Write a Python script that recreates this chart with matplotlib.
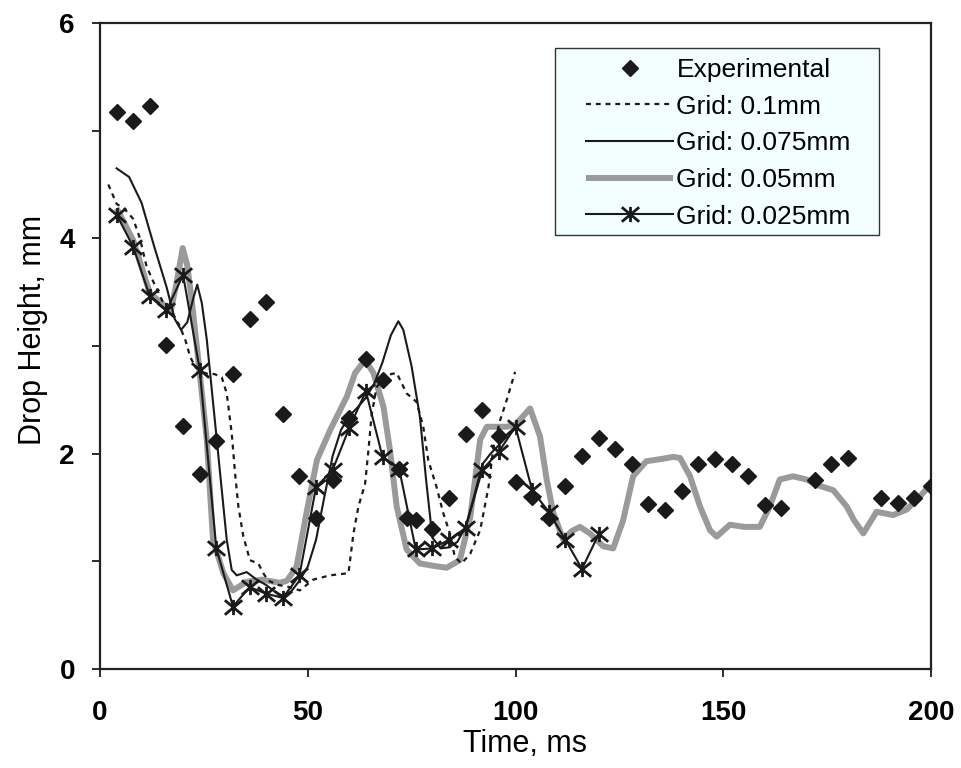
import matplotlib
matplotlib.use("Agg")
import matplotlib.pyplot as plt
from matplotlib.path import Path
from matplotlib.patches import Rectangle
from matplotlib.ticker import FixedLocator

plt.rcParams['font.family'] = ['Liberation Sans', 'DejaVu Sans']

# ---- data ----
exp_t = [4, 8, 12, 16, 20, 24, 28, 32, 36, 40, 44, 48, 52, 56, 60, 64, 68, 72, 74, 76,
         80, 84, 88, 92, 96, 100, 104, 108, 112, 116, 120, 124, 128, 132, 136, 140, 144,
         148, 152, 156, 160, 164, 172, 176, 180, 188, 192, 196, 200]
exp_h = [5.17, 5.09, 5.23, 3.01, 2.26, 1.81, 2.12, 2.74, 3.25, 3.41, 2.37, 1.79, 1.40, 1.76,
         2.33, 2.88, 2.68, 1.86, 1.40, 1.38, 1.30, 1.59, 2.18, 2.41, 2.16, 1.74, 1.60, 1.40,
         1.70, 1.98, 2.15, 2.04, 1.90, 1.53, 1.48, 1.65, 1.90, 1.95, 1.90, 1.79, 1.52, 1.50,
         1.76, 1.90, 1.96, 1.59, 1.54, 1.59, 1.70]

g10_t = [2, 4, 6, 8, 9.6, 11.2, 12.8, 15, 17, 19, 20.5, 21.7, 23, 24.5, 26, 27.5, 29.3,
         30.5, 31.7, 32.5, 33.3, 34.5, 36.1, 38.1, 39.3, 40.5, 43, 45.7, 48.1, 51.3, 55.4,
         59.8, 61, 62.2, 63.8, 64.6, 65.4, 66.6, 69, 71.4, 73.8, 76.2, 77.8, 79, 81, 82.6,
         84.2, 85.4, 87, 89.1, 91.5, 93.5, 94.7, 96.3, 97.9, 99.9]
g10_h = [4.50, 4.32, 4.27, 4.18, 4.00, 3.74, 3.60, 3.42, 3.32, 3.20, 3.06, 2.90, 2.80, 2.76,
         2.74, 2.74, 2.71, 2.56, 2.19, 1.82, 1.51, 1.23, 1.01, 0.98, 0.89, 0.82, 0.78, 0.76,
         0.73, 0.83, 0.87, 0.89, 1.26, 1.51, 1.72, 2.03, 2.37, 2.62, 2.73, 2.75, 2.56, 2.48,
         2.25, 1.94, 1.69, 1.45, 1.26, 1.04, 0.98, 1.07, 1.29, 1.69, 2.06, 2.31, 2.50, 2.76]

g075_t = [4, 7, 10, 13, 16, 18, 19.5, 21, 22.5, 23.4, 24.5, 25.7, 27.3, 28.9, 30.5, 31.7,
          32.9, 35.3, 37.7, 40, 42, 44, 46, 48, 50, 52, 54, 56, 58, 60, 62, 64, 66, 68, 70,
          71.8, 73, 75, 77, 78.5, 80, 82, 84, 86, 88, 90, 92, 94, 96, 98, 100]
g075_h = [4.65, 4.57, 4.33, 3.93, 3.55, 3.25, 3.15, 3.22, 3.45, 3.57, 3.40, 3.06, 2.44, 1.82,
          1.20, 0.92, 0.87, 0.90, 0.83, 0.78, 0.72, 0.68, 0.72, 0.82, 0.95, 1.20, 1.60, 1.98,
          2.22, 2.35, 2.43, 2.52, 2.65, 2.85, 3.10, 3.23, 3.15, 2.81, 2.34, 1.75, 1.22, 1.12,
          1.13, 1.18, 1.32, 1.60, 1.90, 2.00, 2.08, 2.18, 2.25]

g05_t = [4, 8, 12, 16, 17, 18.5, 19.9, 21, 22, 24, 25.7, 27.2, 29.7, 32, 35.3, 39, 43.3,
         45, 47.3, 49.7, 52.2, 55.4, 59.4, 61.4, 63.8, 65.8, 68.2, 69.8, 71.4, 73.8, 77, 80,
         83.4, 86.6, 89.1, 91.5, 93.1, 97.9, 100, 103.5, 105.9, 107.5, 109.1, 111.5, 113.5,
         115.5, 117.9, 121.1, 123.5, 125.9, 128.3, 131.5, 135, 138, 139.6, 142, 144.4, 146.8,
         148.4, 151.6, 155, 158.8, 161.2, 163.6, 166.8, 170, 172.5, 176.5, 179.7, 181.5,
         183.7, 186.9, 190.9, 194.1, 197.3, 200]
g05_h = [4.28, 3.98, 3.49, 3.36, 3.32, 3.60, 3.91, 3.75, 3.45, 2.75, 2.13, 1.20, 0.89, 0.73,
         0.81, 0.83, 0.80, 0.82, 0.95, 1.45, 1.94, 2.22, 2.53, 2.75, 2.87, 2.75, 2.44, 2.03,
         1.51, 1.11, 0.98, 0.96, 0.94, 1.01, 1.41, 2.13, 2.25, 2.25, 2.27, 2.42, 2.16, 1.76,
         1.45, 1.20, 1.28, 1.32, 1.26, 1.14, 1.12, 1.38, 1.79, 1.93, 1.95, 1.97, 1.96, 1.79,
         1.51, 1.29, 1.23, 1.34, 1.32, 1.32, 1.51, 1.76, 1.79, 1.76, 1.71, 1.66, 1.51, 1.38,
         1.26, 1.46, 1.43, 1.48, 1.60, 1.72]

g025_t = [4, 8, 12, 16, 20, 24, 28, 32, 36, 40, 44, 48, 52, 56, 60, 64, 68, 72, 76, 80, 84,
          88, 92, 96, 100, 104, 108, 112, 116, 120]
g025_h = [4.22, 3.92, 3.46, 3.33, 3.66, 2.78, 1.12, 0.58, 0.76, 0.70, 0.66, 0.87, 1.69, 1.85,
          2.24, 2.58, 1.97, 1.86, 1.11, 1.12, 1.20, 1.31, 1.85, 2.02, 2.25, 1.66, 1.46, 1.20,
          0.93, 1.25]

labels = ["Experimental", "Grid: 0.1mm", "Grid: 0.075mm", "Grid: 0.05mm", "Grid: 0.025mm"]
x_ticks = [0, 50, 100, 150, 200]
y_ticks = [0, 2, 4, 6]

# ---- figure ----
fig = plt.figure(figsize=(9.62, 7.68), dpi=100)
ax = fig.add_axes([100 / 962, 99 / 768, 831 / 962, 646 / 768])

star = Path([(-1.2, -1), (1.2, 1), (-1.2, 1), (1.2, -1), (0, -1.05), (0, 1.05)],
            [Path.MOVETO, Path.LINETO, Path.MOVETO, Path.LINETO, Path.MOVETO, Path.LINETO])

ink = '#1a1a1a'
l05, = ax.plot(g05_t, g05_h, color='#9a9a9a', lw=4.3, solid_joinstyle='round',
               solid_capstyle='butt', zorder=2, label=labels[3])
l10, = ax.plot(g10_t, g10_h, color=ink, lw=1.6, dashes=(2.2, 2.2), zorder=3, label=labels[1])
l075, = ax.plot(g075_t, g075_h, color=ink, lw=1.5, zorder=3, label=labels[2])
l025, = ax.plot(g025_t, g025_h, color=ink, lw=1.5, marker=star, markersize=12.5,
                markeredgewidth=2.0, markeredgecolor=ink, zorder=4, label=labels[4])
lexp, = ax.plot(exp_t, exp_h, linestyle='none', marker='D', markersize=7.8,
                color=ink, markeredgecolor=ink, zorder=5, label=labels[0])

ax.set_xlim(0, 200)
ax.set_ylim(0, 6)
ax.xaxis.set_major_locator(FixedLocator(x_ticks))
ax.yaxis.set_major_locator(FixedLocator(y_ticks))
ax.yaxis.set_minor_locator(FixedLocator([1, 3, 5]))
ax.tick_params(axis='both', which='both', direction='out', length=6, width=1.3, color=ink)
ax.tick_params(axis='x', pad=16, labelsize=20)
ax.tick_params(axis='y', pad=12, labelsize=20)
for lab in ax.get_xticklabels() + ax.get_yticklabels():
    lab.set_fontweight('bold')
for s in ax.spines.values():
    s.set_linewidth(1.6)
    s.set_color('#222222')

ax.set_xlabel("Time, ms", fontsize=22, labelpad=0)
ax.set_ylabel("Drop Height, mm", fontsize=22)
ax.xaxis.set_label_coords(0.511, -0.093)
ax.yaxis.set_label_coords(-0.0626, 0.525)

# legend box drawn as a patch, legend itself frameless
box = Rectangle((0.5475, 0.6718), 0.3899, 0.2895, transform=ax.transAxes,
                facecolor='#f3ffff', edgecolor='#333333', linewidth=1.0, zorder=6)
ax.add_patch(box)
leg = ax.legend(handles=[lexp, l10, l075, l05, l025], labels=labels,
                loc='upper left', bbox_to_anchor=(0.585, 0.9459), borderaxespad=0,
                fontsize=19, numpoints=1, handlelength=3.3, handletextpad=0.12,
                labelspacing=0.48, borderpad=0, frameon=False)
leg.set_zorder(7)

fig.savefig("out.png", dpi=100)
